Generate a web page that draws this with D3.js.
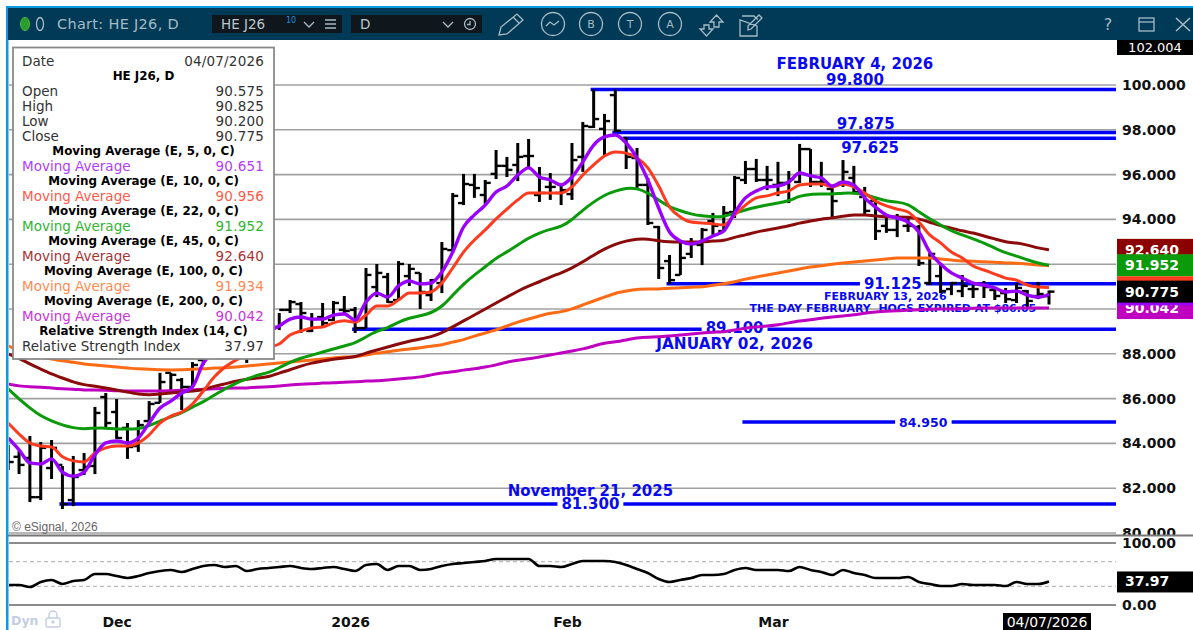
<!DOCTYPE html>
<html>
<head>
<meta charset="utf-8">
<script src="https://cdn.jsdelivr.net/npm/d3@7"></script>
<style>
  html, body { margin: 0; padding: 0; background: #fff; overflow: hidden; }
  svg { display: block; font-family: "DejaVu Sans", sans-serif; }
</style>
</head>
<body>
<svg id="chart" width="1193" height="630"></svg>
<script>
// daily bars HE J26, index 0 = first bar on screen
const opens = [
  83.49,83.40,83.35,81.60,82.90,83.04,81.47,82.81,82.99,86.07,
  85.40,84.69,83.88,85.00,85.81,87.15,86.83,86.52,87.72,88.17,
  88.39,88.62,87.94,88.84,89.06,89.20,89.96,90.22,89.02,89.64,
  89.51,89.96,89.96,89.15,90.98,91.43,90.40,91.47,91.61,90.62,
  91.16,92.63,94.73,95.54,95.09,96.03,96.39,96.43,96.83,95.09,
  95.45,95.18,95.13,96.79,98.13,98.04,99.55,97.63,96.74,95.54,
  93.66,92.14,91.52,92.46,92.86,93.93,93.48,94.33,95.76,96.25,
  95.76,95.54,95.63,95.67,97.14,95.67,95.36,95.63,95.85,95.00,
  94.82,93.71,93.53,93.71,93.66,91.16,91.47,90.89,90.80,90.89,
  91.07,90.85,90.71,90.40,90.80,90.58,90.575];
const highs = [
  83.93,83.66,84.33,84.06,84.15,82.99,83.44,83.57,85.63,86.25,
  85.98,84.91,85.04,85.89,87.15,87.15,86.92,87.63,88.39,88.62,
  89.06,88.97,89.29,89.42,89.51,89.82,90.40,90.31,89.82,90.27,
  90.36,90.58,90.09,91.83,92.01,91.61,92.14,92.01,91.61,91.34,
  92.99,95.18,96.03,96.03,95.76,97.10,96.79,97.41,97.59,96.34,
  96.07,95.58,97.41,98.35,99.80,98.71,99.80,97.68,97.19,95.85,
  93.71,92.41,93.04,93.17,93.62,94.29,94.60,95.94,96.61,96.70,
  96.39,96.57,96.16,97.37,97.14,96.57,95.54,96.65,96.39,95.45,
  94.91,94.20,94.24,94.15,93.75,92.50,92.01,91.21,91.52,91.07,
  91.25,90.98,90.94,91.16,90.85,91.21,90.825];
const lows = [
  82.81,82.63,81.38,81.47,82.41,81.07,81.20,82.59,82.63,84.69,
  84.20,83.31,83.62,85.00,85.81,86.25,85.49,86.52,87.50,87.81,
  88.08,87.81,87.59,88.39,88.53,89.06,89.82,88.93,88.97,89.20,
  89.47,89.82,88.93,89.15,90.53,90.27,90.40,91.03,90.00,90.36,
  90.71,92.50,94.64,94.96,94.69,95.80,95.89,95.71,96.34,94.78,
  94.87,94.64,94.87,96.12,98.08,96.83,97.90,96.25,95.31,93.75,
  91.34,91.12,91.52,92.28,91.96,93.31,93.44,94.06,95.58,95.67,
  95.31,95.04,94.73,95.63,95.45,95.45,94.11,95.45,95.13,94.24,
  93.08,93.40,93.21,93.44,91.92,91.07,90.71,90.62,90.53,90.49,
  90.49,90.40,90.27,90.27,90.09,90.44,90.20];
const closes = [
  83.17,83.04,81.60,83.80,83.80,81.29,82.50,82.95,85.36,84.91,
  84.24,83.84,84.82,85.76,86.74,87.06,86.52,87.50,88.17,88.39,
  88.84,88.62,88.84,89.06,89.29,89.96,90.31,89.82,89.55,89.37,
  90.27,89.91,89.15,91.52,91.61,90.31,92.01,91.79,90.76,91.29,
  92.68,95.05,95.58,95.40,95.63,96.39,96.21,96.79,96.83,95.18,
  95.45,95.31,96.65,98.17,98.48,98.39,97.95,96.79,95.54,93.84,
  91.83,91.29,92.28,92.90,93.53,93.71,94.29,95.85,96.25,95.76,
  95.76,95.63,95.80,97.14,95.67,95.67,94.82,96.12,95.22,94.38,
  93.48,93.53,94.06,93.71,92.05,92.46,90.80,91.16,91.03,90.89,
  90.98,90.58,90.44,90.94,90.36,90.67,90.775];

// moving averages, one value per bar
const ma5 = [
  84.24,83.71,83.13,83.08,83.31,82.72,82.54,82.72,83.49,84.02,
  84.11,84.02,84.24,84.91,85.58,85.89,86.25,86.52,87.59,88.08,
  88.53,88.75,88.88,88.93,89.02,89.24,89.55,89.64,89.55,89.55,
  89.73,89.78,89.51,90.31,90.71,90.53,91.03,91.25,91.12,91.16,
  91.65,92.54,93.66,94.20,94.64,95.22,95.49,95.98,96.30,95.89,
  95.76,95.54,95.89,96.57,97.32,97.68,97.77,97.41,96.74,95.76,
  94.51,93.44,93.04,92.90,93.04,93.26,93.48,94.29,94.96,95.27,
  95.45,95.49,95.67,96.07,95.94,95.85,95.49,95.67,95.54,94.96,
  94.55,94.20,94.06,93.88,93.44,92.54,92.01,91.61,91.38,91.16,
  91.07,90.94,90.76,90.80,90.62,90.53,90.651];
const ma10 = [
  84.91,84.42,84.02,83.88,83.84,83.40,83.22,83.17,83.57,83.80,
  83.88,83.88,84.02,84.38,84.91,85.22,85.40,85.76,86.34,86.96,
  87.41,87.72,87.94,88.17,88.30,88.44,88.84,89.02,89.15,89.20,
  89.38,89.47,89.42,89.73,90.13,90.13,90.40,90.71,90.71,90.76,
  91.16,91.83,92.54,93.08,93.53,94.02,94.46,94.87,95.18,95.18,
  95.18,95.18,95.45,95.98,96.43,96.83,97.01,96.96,96.74,96.30,
  95.49,94.55,94.11,93.88,93.84,93.80,93.75,94.20,94.64,94.96,
  95.05,95.18,95.27,95.54,95.58,95.58,95.45,95.58,95.45,95.18,
  94.82,94.60,94.46,94.33,93.88,93.31,92.95,92.54,92.28,91.92,
  91.74,91.56,91.38,91.29,91.07,90.98,90.956];
const ma22 = [
  86.43,85.98,85.58,85.22,85.00,84.82,84.69,84.64,84.69,84.69,
  84.64,84.64,84.64,84.78,85.00,85.18,85.36,85.63,85.85,86.16,
  86.43,86.70,86.87,87.06,87.15,87.37,87.63,87.81,87.94,88.08,
  88.21,88.35,88.48,88.75,89.02,89.15,89.42,89.60,89.69,89.82,
  90.09,90.62,91.12,91.52,91.88,92.28,92.54,92.86,93.17,93.40,
  93.57,93.66,93.97,94.42,94.78,95.09,95.27,95.40,95.40,95.18,
  94.87,94.55,94.38,94.24,94.15,94.11,94.11,94.29,94.42,94.55,
  94.64,94.73,94.82,95.05,95.13,95.13,95.13,95.18,95.18,95.13,
  94.96,94.82,94.78,94.69,94.33,94.02,93.75,93.48,93.31,93.13,
  92.95,92.72,92.50,92.37,92.19,92.05,91.952];
const ma45 = [
  87.99,87.81,87.54,87.32,87.10,86.92,86.74,86.61,86.56,86.47,
  86.38,86.29,86.20,86.16,86.20,86.25,86.29,86.34,86.38,86.56,
  86.65,86.79,86.87,86.92,86.96,87.15,87.28,87.46,87.59,87.68,
  87.77,87.81,87.86,88.04,88.17,88.30,88.44,88.57,88.66,88.75,
  88.93,89.20,89.47,89.73,90.00,90.27,90.53,90.80,91.03,91.21,
  91.43,91.61,91.83,92.10,92.41,92.68,92.90,93.04,93.13,93.13,
  93.04,92.99,92.99,92.99,92.99,93.04,93.04,93.21,93.30,93.44,
  93.53,93.62,93.71,93.84,93.93,94.02,94.06,94.15,94.20,94.20,
  94.15,94.11,94.11,94.11,94.02,93.88,93.71,93.62,93.48,93.40,
  93.26,93.13,92.99,92.95,92.86,92.72,92.640];
const ma100 = [
  88.35,88.17,87.99,87.86,87.77,87.68,87.63,87.54,87.50,87.46,
  87.41,87.37,87.32,87.32,87.28,87.28,87.28,87.32,87.32,87.37,
  87.37,87.41,87.46,87.50,87.54,87.59,87.63,87.68,87.72,87.77,
  87.81,87.86,87.86,87.94,88.04,88.08,88.17,88.21,88.26,88.35,
  88.39,88.53,88.62,88.80,88.93,89.06,89.24,89.42,89.55,89.69,
  89.82,89.87,90.00,90.18,90.36,90.53,90.71,90.80,90.89,90.89,
  90.89,90.94,90.94,90.98,90.98,91.07,91.12,91.21,91.34,91.43,
  91.52,91.61,91.70,91.79,91.88,91.92,92.01,92.05,92.10,92.14,
  92.19,92.23,92.28,92.28,92.28,92.28,92.23,92.19,92.14,92.14,
  92.10,92.10,92.05,92.05,92.01,91.96,91.934];
const ma200 = [
  86.65,86.56,86.52,86.52,86.47,86.43,86.43,86.38,86.38,86.38,
  86.34,86.34,86.34,86.34,86.34,86.34,86.38,86.38,86.43,86.43,
  86.47,86.47,86.47,86.52,86.52,86.56,86.61,86.65,86.65,86.70,
  86.70,86.74,86.74,86.79,86.79,86.83,86.87,86.92,86.96,87.06,
  87.15,87.19,87.28,87.32,87.41,87.50,87.63,87.72,87.77,87.86,
  87.94,88.04,88.13,88.21,88.35,88.48,88.53,88.62,88.71,88.75,
  88.75,88.80,88.84,88.88,88.93,88.97,88.97,89.06,89.15,89.20,
  89.24,89.29,89.38,89.47,89.51,89.60,89.64,89.69,89.73,89.82,
  89.87,89.91,89.91,89.96,89.96,90.00,90.00,90.00,90.00,90.04,
  90.04,90.04,90.04,90.04,90.04,90.04,90.042];
const rsi = [
  32.3,32.3,29.0,37.1,40.3,33.9,38.7,40.3,50.0,50.0,
  46.8,43.5,46.8,51.6,54.8,56.5,53.2,58.1,62.9,64.5,
  61.3,62.9,54.8,58.1,59.7,61.3,62.9,59.7,58.1,59.7,
  61.3,58.1,54.8,64.5,66.1,56.5,62.9,62.9,56.5,58.1,
  62.9,66.1,67.7,69.4,71.0,74.2,74.2,74.2,74.2,62.9,
  62.9,61.3,66.1,71.0,71.0,71.0,69.4,64.5,58.1,51.6,
  41.9,37.1,40.3,43.5,48.4,48.4,50.0,56.5,59.7,56.5,
  56.5,56.5,54.8,61.3,56.5,53.2,48.4,56.5,51.6,48.4,
  43.5,43.5,43.5,45.2,37.1,33.9,30.6,30.6,33.9,32.3,
  32.3,32.3,30.6,37.1,33.9,33.9,37.97];

const maColors = ["#c000c0", "#ff6a14", "#8b0a0a", "#0a9a0a", "#ff3b1f", "#9a00ff"];
const maSeries = [ma200, ma100, ma45, ma22, ma10, ma5];

const priceTicks = [80, 82, 84, 86, 88, 90, 92, 94, 96, 98, 100];
const priceLabels = [80, 82, 84, 86, 88, 94, 96, 98, 100]; // 90 and 92 are under the value flags
const rsiTicks = [0, 100];
const rsiBands = [30, 70];
const monthBars = [10, 32, 52, 71];
const monthLabels = ["Dec", "2026", "Feb", "Mar"];

// blue horizontal levels drawn by hand on the original chart
const levelPrices = [99.8, 97.875, 97.625, 91.125, 89.1, 84.95, 81.3];
const levelStartBars = [54, 56, 57, 61, 32, 68, 5];

const noteTexts = ["FEBRUARY 4, 2026", "99.800", "97.875", "97.625", "JANUARY 02, 2026", "November 21, 2025",
  "FEBRUARY 13, 2026", "THE DAY FEBRUARY  HOGS EXPIRED AT $86.05"];
const noteBars = [78.1, 78.1, 79.1, 79.5, 67, 53.7, 80.9, 81.6];
const notePrices = [100.94, 100.22, 98.28, 97.19, 88.46, 81.88, 90.58, 90.04];
const noteSizes = [15, 15, 15, 15, 15.3, 15, 11, 11];

// these sit on their level, the line is broken behind them
const gapTexts = ["91.125", "89.100", "84.950", "81.300"];
const gapBars = [81.6, 67, 84.4, 53.7];
const gapPrices = [91.125, 89.15, 84.95, 81.3];
const gapSizes = [15, 15, 12.5, 15];

// right hand value flags, drawn back to front
const flagValues = [92.640, 91.934, 91.952, 90.956, 90.042, 90.651, 90.775];
const flagColors = ["#8b0000", "#ff6a14", "#0a9a0a", "#ff3b1f", "#c000c0", "#9a00ff", "#000"];
const flagLabels = ["92.640", "", "91.952", "", "90.042", "", "90.775"];

const legendLabels = ["Date", "HE J26, D", "Open", "High", "Low", "Close",
  "Moving Average (E, 5, 0, C)", "Moving Average",
  "Moving Average (E, 10, 0, C)", "Moving Average",
  "Moving Average (E, 22, 0, C)", "Moving Average",
  "Moving Average (E, 45, 0, C)", "Moving Average",
  "Moving Average (E, 100, 0, C)", "Moving Average",
  "Moving Average (E, 200, 0, C)", "Moving Average",
  "Relative Strength Index (14, C)", "Relative Strength Index"];
const legendValues = ["04/07/2026", "", "90.575", "90.825", "90.200", "90.775",
  "", "90.651", "", "90.956", "", "91.952", "", "92.640", "", "91.934", "", "90.042", "", "37.97"];
const legendColors = ["#333", "#000", "#333", "#333", "#333", "#333",
  "#000", "#b23cff", "#000", "#ff5a4a", "#000", "#2fb52f", "#000", "#a83232",
  "#000", "#ff8a50", "#000", "#cc33dd", "#000", "#333"];

const svg = d3.select("#chart");
const right = 1116;

const x = d3.scaleLinear().domain([0, 96]).range([8.2, 1049]);
const y = d3.scaleLinear().domain([80, 100]).range([533, 85]);
const yRsi = d3.scaleLinear().domain([0, 100]).range([605, 543]);

const defs = svg.append("defs");
defs.append("clipPath").attr("id", "plot")
  .append("rect").attr("x", 9).attr("y", 40).attr("width", right - 9).attr("height", 495);
defs.append("clipPath").attr("id", "scale")
  .append("rect").attr("x", 1116).attr("y", 40).attr("width", 77).attr("height", 495);
defs.append("clipPath").attr("id", "rsiClip")
  .append("rect").attr("x", 9).attr("y", 537).attr("width", right - 9).attr("height", 75);

const plot = svg.append("g").attr("clip-path", "url(#plot)");

// grid
plot.selectAll(".grid").data(priceTicks).enter().append("line")
  .attr("x1", 9).attr("x2", right)
  .attr("y1", d => y(d)).attr("y2", d => y(d))
  .attr("stroke", "#a0a0a0").attr("stroke-width", 1.6);

// blue levels
plot.selectAll(".level").data(levelPrices).enter().append("line")
  .attr("x1", (d, i) => x(levelStartBars[i]) - 3).attr("x2", right)
  .attr("y1", d => y(d)).attr("y2", d => y(d))
  .attr("stroke", "#0000f5").attr("stroke-width", 3.5);

const blue = "#0a0aee";
gapTexts.forEach((t, i) => {
  const label = plot.append("text")
    .attr("x", x(gapBars[i])).attr("y", y(gapPrices[i]))
    .attr("text-anchor", "middle").attr("dy", "0.36em")
    .attr("font-size", gapSizes[i]).attr("font-weight", "bold").attr("fill", blue).text(t);
  const box = label.node().getBBox();
  plot.insert("rect", "text")
    .attr("x", box.x - 4).attr("width", box.width + 8)
    .attr("y", y(levelPrices[levelPrices.length - gapTexts.length + i]) - 3).attr("height", 6)
    .attr("fill", "#fff");
});

plot.selectAll(".note").data(noteTexts).enter().append("text")
  .attr("x", (d, i) => x(noteBars[i])).attr("y", (d, i) => y(notePrices[i]))
  .attr("text-anchor", "middle").attr("dy", "0.36em")
  .attr("font-size", (d, i) => noteSizes[i]).attr("font-weight", "bold")
  .style("white-space", "pre")
  .attr("fill", blue).text(d => d);

// price bars
const bars = plot.append("g").attr("stroke", "#000");
bars.selectAll(".stem").data(highs).enter().append("line")
  .attr("x1", (d, i) => x(i)).attr("x2", (d, i) => x(i))
  .attr("y1", d => y(d)).attr("y2", (d, i) => y(lows[i]))
  .attr("stroke-width", 3);
bars.selectAll(".open").data(opens).enter().append("line")
  .attr("x1", (d, i) => x(i) - 5.5).attr("x2", (d, i) => x(i))
  .attr("y1", d => y(d)).attr("y2", d => y(d))
  .attr("stroke-width", 2.4);
bars.selectAll(".close").data(closes).enter().append("line")
  .attr("x1", (d, i) => x(i)).attr("x2", (d, i) => x(i) + 5.5)
  .attr("y1", d => y(d)).attr("y2", d => y(d))
  .attr("stroke-width", 2.4);

// moving averages, the slow ones are smooth in the original
const slowLine = d3.line().x((d, i) => x(i)).y(d => y(d)).curve(d3.curveBasis);
const fastLine = d3.line().x((d, i) => x(i)).y(d => y(d)).curve(d3.curveMonotoneX);
plot.selectAll(".ma").data(maSeries).enter().append("path")
  .attr("d", (d, i) => i < 4 ? slowLine(d) : fastLine(d))
  .attr("fill", "none")
  .attr("stroke", (d, i) => maColors[i])
  .attr("stroke-width", (d, i) => i === 5 ? 3.4 : 3)
  .attr("stroke-linejoin", "round");

plot.append("text").attr("x", 12).attr("y", 531)
  .attr("font-family", "Liberation Sans").attr("font-size", 12).attr("fill", "#666")
  .text("\u00a9 eSignal, 2026");

// price scale
const yAxis = d3.axisRight(y).tickValues(priceLabels).tickFormat(d3.format(".3f")).tickSize(0).tickPadding(6);
const yg = svg.append("g").attr("clip-path", "url(#scale)").append("g")
  .attr("transform", `translate(${right},0)`).call(yAxis);
yg.select(".domain").remove();
yg.selectAll("text").attr("font-family", "DejaVu Sans").attr("font-size", 14)
  .attr("font-weight", "bold").attr("fill", "#111");

// value flags
const flagH = 22;
flagValues.forEach((v, i) => {
  const cy = y(v);
  svg.append("rect").attr("x", 1117).attr("width", 76)
    .attr("y", cy - flagH / 2).attr("height", flagH).attr("fill", flagColors[i]);
  if (flagLabels[i]) {
    svg.append("text").attr("x", 1125).attr("y", cy).attr("dy", "0.36em")
      .attr("font-size", 14).attr("font-weight", "bold").attr("fill", "#fff").text(flagLabels[i]);
  }
});

// top value box
svg.append("rect").attr("x", 1117).attr("y", 40).attr("width", 76).attr("height", 15).attr("fill", "#000");
svg.append("text").attr("x", 1155).attr("y", 47.5).attr("dy", "0.36em").attr("text-anchor", "middle")
  .attr("font-size", 13).attr("fill", "#fff").text("102.004");

// pane divider
svg.append("line").attr("x1", 8).attr("x2", 1193).attr("y1", 535.5).attr("y2", 535.5)
  .attr("stroke", "#777").attr("stroke-width", 2);

// RSI pane
svg.selectAll(".rsiGrid").data(rsiTicks).enter().append("line")
  .attr("x1", 9).attr("x2", right)
  .attr("y1", d => yRsi(d)).attr("y2", d => yRsi(d))
  .attr("stroke", "#666").attr("stroke-width", 1.4);
svg.selectAll(".rsiBand").data(rsiBands).enter().append("line")
  .attr("x1", 9).attr("x2", right)
  .attr("y1", d => yRsi(d)).attr("y2", d => yRsi(d))
  .attr("stroke", "#bbb").attr("stroke-width", 1.4).attr("stroke-dasharray", "4 3");
svg.append("path").datum(rsi)
  .attr("d", d3.line().x((d, i) => x(i)).y(d => yRsi(d)).curve(d3.curveMonotoneX))
  .attr("fill", "none").attr("stroke", "#000").attr("stroke-width", 2.6)
  .attr("clip-path", "url(#rsiClip)");

const rsiAxis = d3.axisRight(yRsi).tickValues(rsiTicks).tickFormat(d3.format(".2f")).tickSize(0).tickPadding(6);
const rg = svg.append("g").attr("transform", `translate(${right},0)`).call(rsiAxis);
rg.select(".domain").remove();
rg.selectAll("text").attr("font-family", "DejaVu Sans").attr("font-size", 14)
  .attr("font-weight", "bold").attr("fill", "#111");

svg.append("rect").attr("x", 1117).attr("y", yRsi(37.97) - 10).attr("width", 76).attr("height", 21).attr("fill", "#000");
svg.append("text").attr("x", 1125).attr("y", yRsi(37.97)).attr("dy", "0.36em")
  .attr("font-size", 14).attr("font-weight", "bold").attr("fill", "#fff").text("37.97");

// time axis
const xAxis = d3.axisBottom(x).tickValues(monthBars)
  .tickFormat((d, i) => monthLabels[i]).tickSize(0).tickPadding(0);
const xg = svg.append("g").attr("transform", "translate(0,617)").call(xAxis);
xg.select(".domain").remove();
xg.selectAll("text").attr("font-family", "DejaVu Sans").attr("font-size", 14)
  .attr("font-weight", "bold").attr("fill", "#111")
  .attr("dx", d => d === 10 ? 0 : -5);

svg.append("rect").attr("x", 1003).attr("y", 613).attr("width", 88).attr("height", 17).attr("fill", "#000");
svg.append("text").attr("x", 1047).attr("y", 622).attr("dy", "0.36em").attr("text-anchor", "middle")
  .attr("font-size", 14).attr("fill", "#fff").text("04/07/2026");

svg.append("text").attr("x", 11).attr("y", 625)
  .attr("font-size", 12.5).attr("font-weight", "bold").attr("fill", "#c3cde3").text("Dyn");
const lock = svg.append("g").attr("fill", "none").attr("stroke", "#c3cde3").attr("stroke-width", 1.4);
lock.append("rect").attr("x", 46).attr("y", 618).attr("width", 14).attr("height", 9).attr("rx", 2);
lock.append("path").attr("d", "M49 618v-3a4 4 0 0 1 8 0v3");
lock.append("circle").attr("cx", 53).attr("cy", 622).attr("r", 1);

// legend panel
const lg = svg.append("g");
lg.append("rect").attr("x", 13).attr("y", 47.5).attr("width", 261).attr("height", 311.5)
  .attr("fill", "#fff").attr("stroke", "#8a8a8a").attr("stroke-width", 1.8);
legendLabels.forEach((t, i) => {
  const cy = 60.7 + i * 15;
  const isTitle = legendValues[i] === "";
  lg.append("text")
    .attr("x", isTitle ? 143.5 : 22).attr("y", cy).attr("dy", "0.36em")
    .attr("text-anchor", isTitle ? "middle" : "start")
    .attr("font-size", isTitle ? 11.9 : 13.5)
    .attr("font-weight", isTitle ? "bold" : "normal")
    .attr("fill", legendColors[i]).text(t);
  if (!isTitle) {
    lg.append("text").attr("x", 264).attr("y", cy).attr("dy", "0.36em").attr("text-anchor", "end")
      .attr("font-size", 13.5).attr("letter-spacing", 0.2).attr("fill", legendColors[i]).text(legendValues[i]);
  }
});

// window frame and toolbar
svg.append("rect").attr("x", 6).attr("y", 6).attr("width", 1187).attr("height", 2.5).attr("fill", "#0a9be0");
svg.append("rect").attr("x", 6).attr("y", 6).attr("width", 2.5).attr("height", 624).attr("fill", "#0a9be0");
svg.append("rect").attr("x", 8).attr("y", 8).attr("width", 1185).attr("height", 32).attr("fill", "#003a57");

const iconColor = "#a6bac5";
svg.append("ellipse").attr("cx", 25).attr("cy", 24).attr("rx", 4.5).attr("ry", 6.5)
  .attr("fill", "#2e9a2e").attr("stroke", "#37c337");
svg.append("ellipse").attr("cx", 40).attr("cy", 24).attr("rx", 3.5).attr("ry", 6.5)
  .attr("fill", "none").attr("stroke", iconColor).attr("stroke-width", 1.3);
svg.append("text").attr("x", 57).attr("y", 24).attr("dy", "0.36em")
  .attr("font-size", 14.5).attr("fill", iconColor).attr("letter-spacing", 0.3).text("Chart: HE J26, D");

svg.append("rect").attr("x", 212).attr("y", 15).attr("width", 130).attr("height", 18).attr("fill", "#10171c");
svg.append("rect").attr("x", 351).attr("y", 15).attr("width", 131).attr("height", 18).attr("fill", "#10171c");
svg.append("text").attr("x", 221).attr("y", 24.5).attr("dy", "0.36em")
  .attr("font-size", 13.5).attr("fill", "#b9c6cd").text("HE J26");
svg.append("text").attr("x", 286).attr("y", 20.5).attr("dy", "0.36em")
  .attr("font-size", 8).attr("fill", "#1e90e0").text("10");
svg.append("text").attr("x", 360).attr("y", 24.5).attr("dy", "0.36em")
  .attr("font-size", 13.5).attr("fill", "#b9c6cd").text("D");

const icons = svg.append("g").attr("fill", "none").attr("stroke", iconColor).attr("stroke-width", 1.3);
icons.append("path").attr("d", "M304 22l5 5l5-5M443 22l5 5l5-5");
icons.append("path").attr("d", "M325 20h11M325 24h11M325 28h11");
icons.append("circle").attr("cx", 470).attr("cy", 24).attr("r", 5.5);
icons.append("path").attr("d", "M470 21v3.5h-3");
// pencil
icons.append("path").attr("d", "M499 35l2-8l16-13l6 6l-16 14zM513 17l6 6");
// study, bar, text and alert buttons
icons.append("circle").attr("cx", 553).attr("cy", 24).attr("r", 11.5);
icons.append("path").attr("d", "M546 26l4-4l4 3l5-4");
[["B", 591], ["T", 630], ["A", 670]].forEach(d => {
  icons.append("circle").attr("cx", d[1]).attr("cy", 24).attr("r", 11.5);
  svg.append("text").attr("x", d[1]).attr("y", 24).attr("dy", "0.36em").attr("text-anchor", "middle")
    .attr("font-size", 11).attr("fill", iconColor).text(d[0]);
});
// transfer arrows, notes
icons.append("path").attr("d", "M700 29h4v-4h5v4h4l-6.5 7zM710 22h4v5h5v-5h4l-6.5-7z");
icons.append("path").attr("d", "M742 16h12l3 3v-1M757 26v10h-17v-16zM748 30l3-1l11-11l-3-3l-11 11z");
// right side buttons
svg.append("text").attr("x", 1108).attr("y", 24).attr("dy", "0.36em").attr("text-anchor", "middle")
  .attr("font-size", 16).attr("fill", iconColor).text("?");
icons.append("rect").attr("x", 1139).attr("y", 18).attr("width", 15).attr("height", 13);
icons.append("path").attr("d", "M1139 22h15");
icons.append("path").attr("d", "M1176 18l14 13M1190 18l-14 13").attr("stroke-width", 1.6);
</script>
</body>
</html>
